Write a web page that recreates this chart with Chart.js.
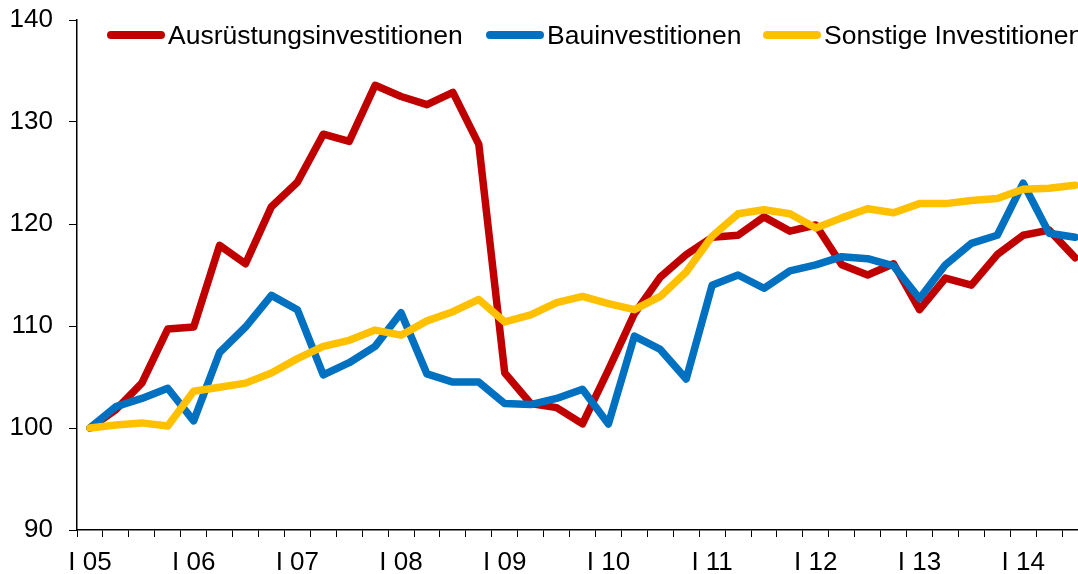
<!DOCTYPE html>
<html>
<head>
<meta charset="utf-8">
<script src="https://cdn.jsdelivr.net/npm/chart.js@4/dist/chart.umd.min.js"></script>
<style>
  html, body { margin: 0; padding: 0; background: #fff; overflow: hidden; }
  #wrap { position: relative; width: 1088px; height: 574px; }
  #legend { position: absolute; top: 0; left: 0; font-family: "Liberation Sans", Arial, sans-serif; font-size: 26.5px; color: #000; }
  .item { position: absolute; top: 20px; display: flex; align-items: center; white-space: nowrap; height: 30px; }
  .swatch { width: 58px; height: 8px; border-radius: 4px; margin-right: 3px; }
</style>
</head>
<body>
<div id="wrap">
  <canvas id="chart" width="1088" height="574"></canvas>
  <div id="legend"></div>
</div>
<script>
// quarters I 05 .. III 14
const years = ['05', '06', '07', '08', '09', '10', '11', '12', '13', '14'];
const quarterNames = ['I', 'II', 'III', 'IV'];
const categories = [];
years.forEach(y => quarterNames.forEach(q => categories.push(q + ' ' + y)));
categories.length = 39;

const ausruestung = [100, 101.8, 104.4, 109.7, 109.9, 117.9, 116.1, 121.7, 124.1, 128.8,
  128.1, 133.6, 132.5, 131.7, 132.9, 127.8, 105.4, 102.4, 102.0, 100.4,
  105.7, 111.2, 114.8, 117.0, 118.7, 118.9, 120.7, 119.3, 119.9, 116.0,
  115.0, 116.1, 111.6, 114.7, 114.0, 117.0, 118.9, 119.4, 116.7];
const bau = [100, 102.1, 102.9, 103.9, 100.7, 107.4, 109.9, 113.0, 111.6, 105.2,
  106.4, 108.0, 111.3, 105.3, 104.5, 104.5, 102.4, 102.3, 102.9, 103.8,
  100.4, 109.0, 107.7, 104.8, 114.0, 115.0, 113.7, 115.4, 116.0, 116.8,
  116.6, 115.9, 112.7, 116.0, 118.1, 118.9, 124.0, 119.1, 118.7];
const sonstige = [100, 100.3, 100.5, 100.2, 103.6, 104.0, 104.4, 105.4, 106.8, 108.0,
  108.6, 109.6, 109.1, 110.5, 111.4, 112.6, 110.4, 111.1, 112.3, 112.9,
  112.2, 111.6, 112.9, 115.3, 118.8, 121.0, 121.4, 121.0, 119.6, 120.6,
  121.5, 121.1, 122.0, 122.0, 122.3, 122.5, 123.4, 123.5, 123.8];

const seriesNames = ['Ausrüstungsinvestitionen', 'Bauinvestitionen', 'Sonstige Investitionen'];
const seriesColors = ['#C00000', '#0070C0', '#FFC000'];
const legendLeft = [107, 486, 763];

const font = '"Liberation Sans", Arial, sans-serif';

// legend as html over the plot
const legendEl = document.getElementById('legend');
seriesNames.forEach((name, i) => {
  legendEl.innerHTML += `<div class="item" style="left:${legendLeft[i]}px;"><div class="swatch" style="background:${seriesColors[i]};"></div><span>${name}</span></div>`;
});

const makeSet = (label, data, color) => ({
  label: label,
  data: data,
  borderColor: color,
  backgroundColor: color,
  borderWidth: 7.5,
  pointRadius: 0,
  tension: 0,
  borderJoinStyle: 'round',
  borderCapStyle: 'round'
});

new Chart(document.getElementById('chart'), {
  type: 'line',
  data: {
    labels: categories,
    datasets: [
      makeSet(seriesNames[2], sonstige, seriesColors[2]),
      makeSet(seriesNames[1], bau, seriesColors[1]),
      makeSet(seriesNames[0], ausruestung, seriesColors[0])
    ]
  },
  options: {
    responsive: false,
    animation: false,
    layout: { padding: { top: 20, left: 0, right: 0, bottom: 0 } },
    plugins: { legend: { display: false }, tooltip: { enabled: false } },
    scales: {
      x: {
        offset: true,
        grid: { offset: true, drawOnChartArea: false, drawTicks: true, tickLength: 7, color: '#000', lineWidth: 1 },
        border: { color: '#000', width: 1.5 },
        ticks: {
          autoSkip: false,
          maxRotation: 0,
          padding: 10,
          color: '#000',
          font: { family: font, size: 26 },
          callback: function(v, i) { return i % 4 === 0 ? categories[i] : ''; }
        },
        afterFit: s => { s.height = 44; s.paddingLeft = 0; s.paddingRight = 0; }
      },
      y: {
        min: 90,
        max: 140,
        grid: { drawOnChartArea: false, drawTicks: true, tickLength: 8, color: '#000', lineWidth: 1 },
        border: { color: '#000', width: 1.5 },
        ticks: {
          stepSize: 10,
          padding: 16,
          color: '#000',
          font: { family: font, size: 26 }
        },
        afterFit: s => { s.width = 77; s.paddingTop = 0; s.paddingBottom = 0; }
      }
    }
  }
});
</script>
</body>
</html>
